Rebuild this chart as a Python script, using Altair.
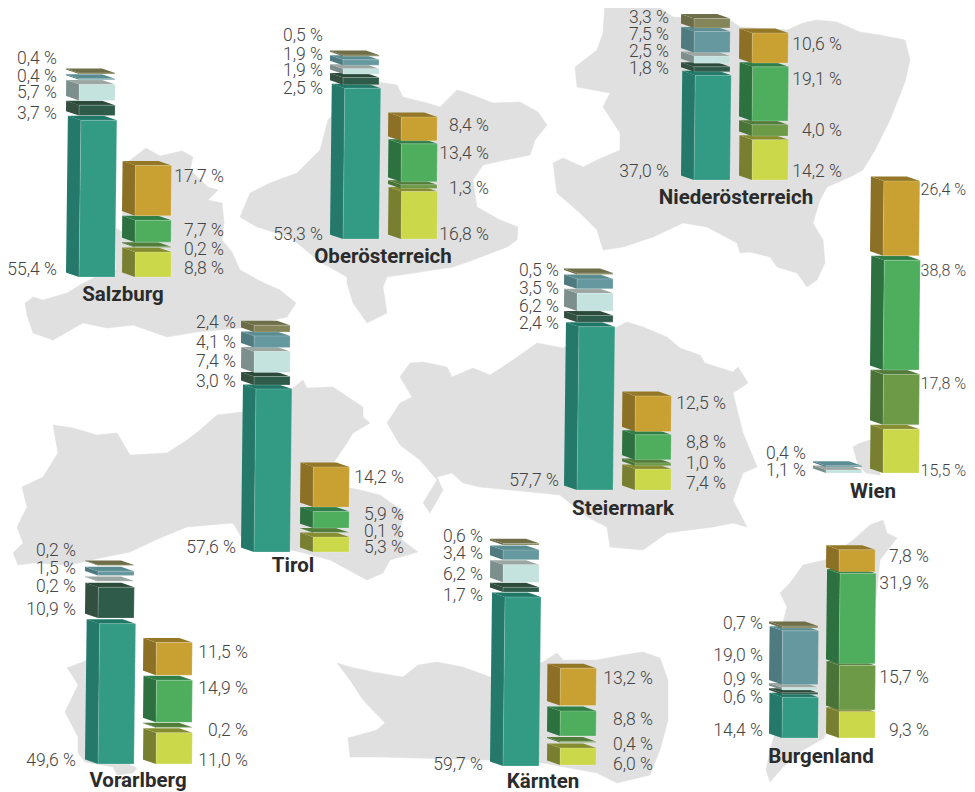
import altair as alt

# ---- data: shares per Bundesland (bottom to top of each column)
STATES = ["Salzburg", "Oberösterreich", "Niederösterreich", "Wien", "Tirol",
          "Steiermark", "Vorarlberg", "Kärnten", "Burgenland"]
LEFT_CATS = ["teal", "dark", "light", "blue", "khaki"]
RIGHT_CATS = ["yellow", "olive", "green", "gold"]
LEFT_VALUES = {
    "Salzburg": [55.4, 3.7, 5.7, 0.4, 0.4],
    "Oberösterreich": [53.3, 2.5, 1.9, 1.9, 0.5],
    "Niederösterreich": [37.0, 1.8, 2.5, 7.5, 3.3],
    "Wien": [None, None, 1.1, 0.4, None],
    "Tirol": [57.6, 3.0, 7.4, 4.1, 2.4],
    "Steiermark": [57.7, 2.4, 6.2, 3.5, 0.5],
    "Vorarlberg": [49.6, 10.9, 0.2, 1.5, 0.2],
    "Kärnten": [59.7, 1.7, 6.2, 3.4, 0.6],
    "Burgenland": [14.4, 0.6, 0.9, 19.0, 0.7],
}
RIGHT_VALUES = {
    "Salzburg": [8.8, 0.2, 7.7, 17.7],
    "Oberösterreich": [16.8, 1.3, 13.4, 8.4],
    "Niederösterreich": [14.2, 4.0, 19.1, 10.6],
    "Wien": [15.5, 17.8, 38.8, 26.4],
    "Tirol": [5.3, 0.1, 5.9, 14.2],
    "Steiermark": [7.4, 1.0, 8.8, 12.5],
    "Vorarlberg": [11.0, 0.2, 14.9, 11.5],
    "Kärnten": [6.0, 0.4, 8.8, 13.2],
    "Burgenland": [9.3, 15.7, 31.9, 7.8],
}

# ---- layout (separate from the data)
PX_PER_PCT = 2.83
SIDE_W, FRONT_W, TOP_H, LEAN = 13, 36, 4.5, 0.012
LABEL_SIZE, TIGHT_LABEL_SIZE, TITLE_SIZE = 17.5, 16, 20.5
LABEL_DY = 1.5
# state: left x, left base, left gap, right x, right base, right gap
COLS = {
    "Salzburg": (66, 277, 4.6, 122, 277, 4.7),
    "Oberösterreich": (330, 239, 3.5, 388, 239, 3.0),
    "Niederösterreich": (681, 180, 3.5, 739, 180, 3.8),
    "Wien": (813, 473, 3.0, 870, 473, 4.4),
    "Tirol": (241, 552, 4.0, 300, 552, 4.3),
    "Steiermark": (564, 490, 4.5, 622, 490, 3.3),
    "Vorarlberg": (85, 764, 5.6, 143, 764, 5.0),
    "Kärnten": (490, 766, 5.0, 547, 765, 5.5),
    "Burgenland": (769, 738, 2.8, 826, 738, 1.7),
}
# state: left label right edge, right label right edge, label centre y's (bottom to top), title x, y
LABELS = {
    "Salzburg": (57, 224, [268, 112, 91, 75, 57], [267, 248, 229, 175], 123, 295),
    "Oberösterreich": (323, 489, [233, 87, 69, 53, 34], [233, 187, 152, 124], 383, 257),
    "Niederösterreich": (669, 842, [170, 67, 50, 33, 16], [170, 129, 78, 43], 736, 198),
    "Wien": (806, 966, [None, None, 469, 452, None], [469, 382, 269, 188], 873, 492),
    "Tirol": (236, 404, [546, 380, 360, 341, 321], [546, 530, 513, 476], 293, 566),
    "Steiermark": (559, 726, [479, 322, 305, 287, 269], [482, 462, 441, 402], 623, 509),
    "Vorarlberg": (76, 248, [759, 608, 585, 567, 549], [759, 729, 687, 651], 138, 781),
    "Kärnten": (483, 653, [763, 594, 573, 552, 535], [763, 743, 718, 677], 543, 782),
    "Burgenland": (763, 929, [729, 696, 678, 654, 622], [729, 676, 582, 555], 821, 757),
}
# category: front, side, top
COLORS = {
    "teal": ("#339A84", "#24796A", "#1F7766"),
    "dark": ("#2F5B4A", "#324F3F", "#2B4A3A"),
    "light": ("#C4E3DE", "#7C8F8D", "#9CA7A3"),
    "blue": ("#66989F", "#4F7A80", "#5A8D92"),
    "khaki": ("#85855A", "#6C6C48", "#6E6E49"),
    "gold": ("#C9A032", "#8C7025", "#957827"),
    "green": ("#4FAE5E", "#2D7140", "#2F7E45"),
    "olive": ("#6C9A46", "#4A7338", "#527C3A"),
    "yellow": ("#CBD84A", "#797F30", "#868C30"),
}
MAP_COLOR = "#DFE0DF"
LABEL_COLOR = "#444444"
TITLE_COLOR = "#2B2B2B"
FONT = "Roboto"

# map outlines (decorative background regions), image pixels
MAPS = [
    # Salzburg
    [(25,303),(33,297),(43,300),(67,293),(80,285),(95,277),(116,270),(116,228),(122,232),(124,165),(133,158),(146,148),
     (160,156),(182,151),(193,157),(190,170),(208,187),(218,190),(213,195),(208,200),(222,203),(224,222),(222,240),
     (232,252),(240,270),(262,282),(280,290),(296,303),(287,317),(240,328),(197,332),(167,337),(133,325),(107,328),
     (83,323),(53,340),(33,333),(27,315)],
    # Oberoesterreich
    [(240,217),(250,193),(270,183),(297,173),(320,150),(328,120),(360,85),(378,82),(397,85),(403,97),(427,103),(440,107),
     (457,90),(467,93),(493,103),(520,102),(538,112),(547,125),(535,140),(530,155),(505,160),(483,165),(473,180),(477,207),
     (500,220),(518,227),(517,240),(507,247),(473,260),(453,267),(387,277),(383,287),(387,313),(367,323),(353,303),
     (347,283),(347,277),(320,262),(290,237),(257,227)],
    # Niederoesterreich
    [(603,2),(627,5),(653,3),(673,17),(730,20),(740,27),(787,30),(803,23),(817,20),(837,22),(860,32),(880,35),(905,40),
     (910,60),(905,82),(890,120),(875,150),(863,170),(850,177),(827,187),(820,200),(813,223),(823,240),(825,263),(817,280),
     (807,287),(797,273),(777,267),(770,257),(750,252),(740,253),(737,243),(707,227),(683,223),(653,237),(623,247),
     (603,250),(597,230),(580,213),(557,193),(553,163),(563,158),(583,167),(597,160),(620,150),(620,133),(603,107),
     (610,93),(577,87),(575,67),(597,50),(603,33),(605,3)],
    # Wien
    [(853,447),(860,443),(870,440),(880,450),(880,475),(866,473),(858,465)],
    # Tirol
    [(53,425),(73,428),(97,435),(117,433),(130,455),(167,453),(187,440),(200,430),(217,415),(242,412),(270,395),(293,388),
     (303,380),(307,388),(333,387),(363,407),(363,417),(370,423),(353,433),(347,443),(332,465),(345,487),(360,490),
     (380,495),(404,512),(400,530),(402,540),(418,552),(390,560),(383,573),(367,580),(330,560),(300,552),(243,540),
     (233,523),(187,527),(160,538),(130,552),(100,558),(70,565),(33,563),(18,565),(13,553),(23,543),(17,527),(27,507),
     (22,487),(43,477),(58,453)],
    # Steiermark
    [(400,377),(410,363),(423,362),(447,367),(452,377),(473,368),(490,375),(513,360),(537,343),(563,348),(590,335),(617,327),
     (627,322),(643,327),(667,337),(680,348),(700,355),(705,363),(733,372),(738,367),(748,383),(733,393),(743,433),
     (753,457),(757,467),(743,473),(733,500),(747,527),(733,523),(713,527),(667,533),(643,550),(610,547),(607,527),
     (587,517),(560,495),(510,490),(480,487),(463,483),(452,473),(437,477),(443,490),(430,513),(423,503),(437,480),
     (420,460),(400,445),(387,423),(400,403),(412,397)],
    # Kaernten
    [(337,663),(350,667),(373,672),(403,677),(418,665),(437,662),(463,667),(490,677),(520,670),(543,662),(557,653),(563,660),
     (597,660),(623,655),(643,652),(660,658),(668,680),(668,720),(660,750),(650,775),(617,783),(597,773),(543,763),
     (490,760),(380,757),(350,757),(348,738),(377,730),(385,723),(363,700),(350,680)],
    # Vorarlberg
    [(67,668),(85,661),(110,650),(120,700),(130,765),(137,768),(133,773),(117,775),(113,767),(85,762),(78,753),(78,737),
     (65,712),(78,685),(72,675)],
    # Burgenland
    [(870,525),(883,520),(887,533),(897,538),(880,560),(876,600),(850,640),(830,720),(824,738),(800,752),(783,767),(770,782),
     (766,770),(770,750),(785,700),(785,640),(783,622),(787,607),(780,593),(790,583),(803,565),(825,560),(853,540)],
]


def convex_rows(pid, pts, fill, stroke="transparent"):
    """Express a convex polygon as x / y / y2 rows for an area mark."""
    xs = sorted({p[0] for p in pts})
    n = len(pts)
    rows = []
    for x in xs:
        ys = []
        for i in range(n):
            (x1, y1), (x2, y2) = pts[i], pts[(i + 1) % n]
            if min(x1, x2) <= x <= max(x1, x2):
                if x1 == x2:
                    ys += [y1, y2]
                else:
                    ys.append(y1 + (y2 - y1) * (x - x1) / (x2 - x1))
        rows.append({"pid": pid, "x": x, "y": min(ys), "y2": max(ys), "fill": fill, "stroke": stroke})
    return rows


faces, texts = [], []
pid = 0


def column(x0, base, gap, cats, values):
    global pid
    y = base
    for cat, v in zip(cats, values):
        if v is None:
            continue
        h = v * PX_PER_PCT
        top = y - h
        l = h * LEAN
        front, side, topc = COLORS[cat]
        xf = x0 + SIDE_W
        xr = xf + FRONT_W
        pid += 1
        faces.extend(convex_rows(pid, [(x0, y - TOP_H), (xf, y), (xf + l, top), (x0 + l, top - TOP_H)], side))
        pid += 1
        faces.extend(convex_rows(pid, [(x0 + l, top - TOP_H), (xf + l, top), (xr + l, top), (x0 + FRONT_W + l, top - TOP_H)], topc))
        pid += 1
        faces.extend(convex_rows(pid, [(xf, y), (xr, y), (xr + l, top), (xf + l, top)], front, "#FFFFFF"))
        y = top - gap


def fmt(v):
    return f"{v:.1f}".replace(".", ",") + " %"


for s in STATES:
    lx, lb, lg, rx, rb, rg = COLS[s]
    column(lx, lb, lg, LEFT_CATS, LEFT_VALUES[s])
    column(rx, rb, rg, RIGHT_CATS, RIGHT_VALUES[s])
    le, re_, ly, ry, tx, ty = LABELS[s]
    for v, y in zip(LEFT_VALUES[s], ly):
        if v is not None:
            texts.append({"x": le, "y": y + LABEL_DY, "t": fmt(v), "s": LABEL_SIZE})
    for v, y in zip(RIGHT_VALUES[s], ry):
        texts.append({"x": re_, "y": y + LABEL_DY, "t": fmt(v), "s": TIGHT_LABEL_SIZE if s == "Wien" else LABEL_SIZE})

titles = [{"x": LABELS[s][4], "y": LABELS[s][5], "t": s} for s in STATES]

features = [
    {"type": "Feature", "properties": {"i": i},
     "geometry": {"type": "Polygon", "coordinates": [[list(p) for p in poly] + [list(poly[0])]]}}
    for i, poly in enumerate(MAPS)
]

X = alt.X("x:Q", scale=alt.Scale(domain=[8, 967], nice=False, zero=False), axis=None)
Y = alt.Y("y:Q", scale=alt.Scale(domain=[792, 8], nice=False, zero=False), axis=None, stack=None)

maps = alt.Chart(alt.Data(values=features)).mark_geoshape(
    fill=MAP_COLOR, stroke=MAP_COLOR, strokeWidth=0.5
).project(type="identity", scale=1, translate=[-8, -8])

bars = alt.Chart(alt.Data(values=faces)).mark_area(strokeWidth=0.6, strokeOpacity=0.35, interpolate="linear").encode(
    x=X, y=Y, y2="y2:Q",
    fill=alt.Fill("fill:N", scale=None),
    stroke=alt.Stroke("stroke:N", scale=None),
    detail="pid:N",
)

labels = alt.Chart(alt.Data(values=texts)).mark_text(
    font=FONT, fontWeight=300, align="right", baseline="middle", color=LABEL_COLOR
).encode(x=X, y=Y, text="t:N", size=alt.Size("s:Q", scale=None))

heads = alt.Chart(alt.Data(values=titles)).mark_text(
    font=FONT, fontSize=TITLE_SIZE, fontWeight="bold", align="center", baseline="middle", color=TITLE_COLOR
).encode(x=X, y=Y, text="t:N")

chart = alt.layer(maps, bars, labels, heads).properties(
    width=959, height=784, padding=0, autosize=alt.AutoSizeParams(type="none"),
    background="#FFFFFF",
).configure_view(stroke=None)

chart.save("out.html", embed_options={"renderer": "svg", "actions": False})
